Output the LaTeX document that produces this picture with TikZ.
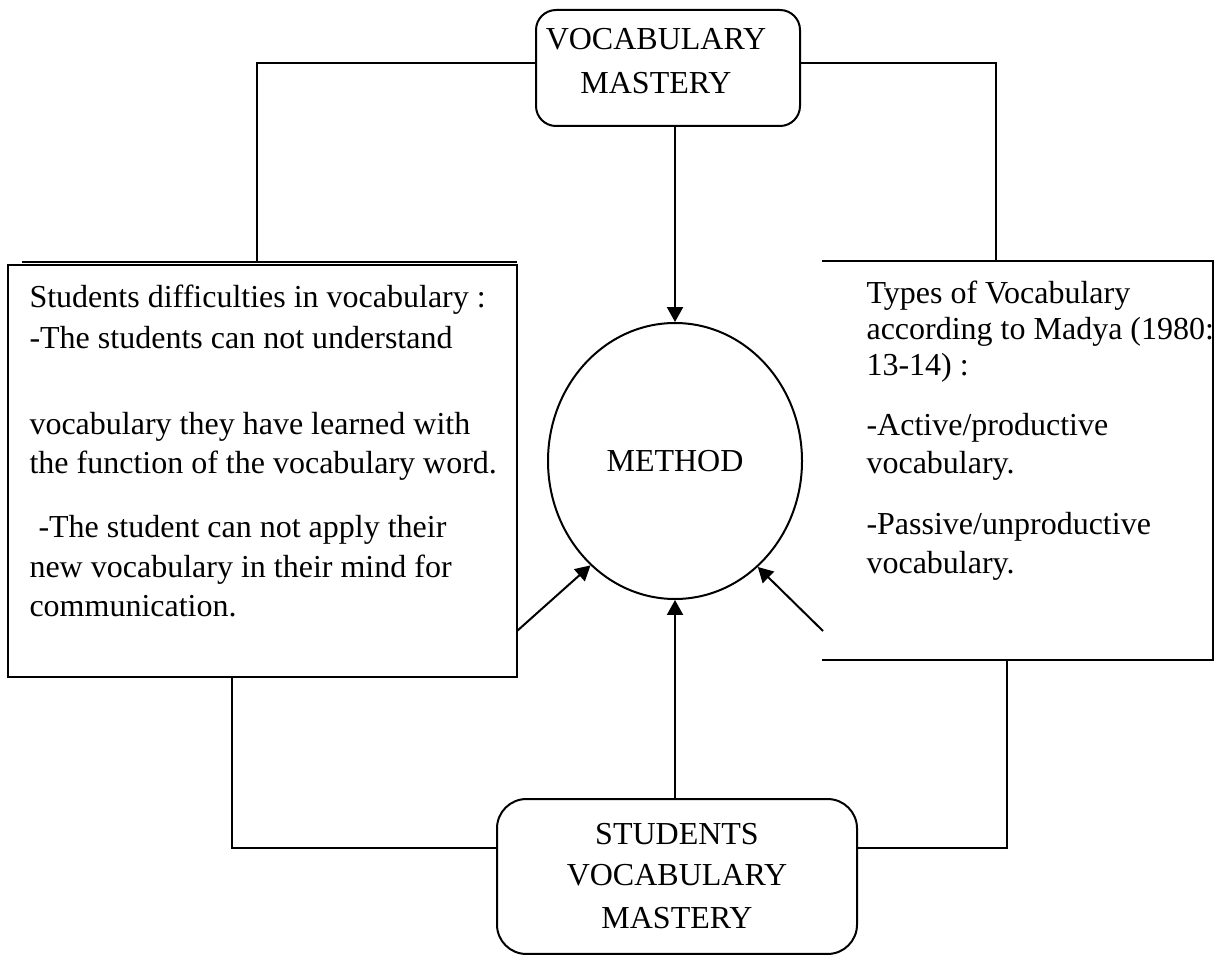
\documentclass[tikz,border=0pt]{standalone}
\usepackage{fontspec}
\setmainfont{Liberation Serif}
\usetikzlibrary{shapes.geometric,arrows.meta}
\begin{document}
\begin{tikzpicture}[x=0.375pt,y=-0.375pt,
  line/.style={line width=0.75pt},
  arr/.style={line width=0.75pt,-{Triangle[length=5.6pt,width=6pt]}},
  txt/.style={font=\fontsize{12}{14}\selectfont, inner sep=0pt, anchor=base west},
  ctxt/.style={font=\fontsize{12}{14}\selectfont, inner sep=0pt, anchor=base},
  roundbox/.style={draw, line width=0.75pt, inner sep=0pt},
  plainbox/.style={inner sep=0pt},
]
\useasboundingbox (0,0) rectangle (1217,956);

% boxes
\node[roundbox, rounded corners=7.5pt, minimum width=99pt, minimum height=43.5pt] (top) at (668,68) {};
\node[roundbox, rounded corners=11pt, minimum width=135pt, minimum height=58.1pt] (bot) at (677,876.5) {};
\node[roundbox, minimum width=190.9pt, minimum height=154.5pt] (lbox) at (262.5,471) {};
\node[plainbox, minimum width=145.9pt, minimum height=148.9pt] (rbox) at (1017.5,460.5) {};
\draw[line] (rbox.north west) -- (rbox.north east) -- (rbox.south east) -- (rbox.south west);
\draw[line] (22,262) -- (517,262);

\node[draw, ellipse, line width=0.75pt, inner sep=0pt, minimum width=95.25pt, minimum height=103.5pt,
      font=\fontsize{12}{14}\selectfont] (method) at (675,461) {METHOD};

% box texts
\node[ctxt] (t1) at (656,50) {VOCABULARY};
\node[ctxt] (t2) at (656,94) {MASTERY};
\node[ctxt] (b1) at (677,844) {STUDENTS};
\node[ctxt] (b2) at (677,885) {VOCABULARY};
\node[ctxt] (b3) at (677,928) {MASTERY};

\node[txt] (l1) at (29,307) {Students difficulties in vocabulary :};
\node[txt] (l2) at (29,348) {-The students can not understand};
\node[txt] (l3) at (29,434) {vocabulary they have learned with};
\node[txt] (l4) at (29,473) {the function of the vocabulary word.};
\node[txt] (l5) at (38,537) {-The student can not apply their};
\node[txt] (l6) at (29,577) {new vocabulary in their mind for};
\node[txt] (l7) at (29,616) {communication.};

\begin{scope}
\clip (823,262) rectangle (1212,659);
\node[txt] (r1) at (866,303) {Types of Vocabulary};
\node[txt] (r2) at (866,339) {according to Madya (1980:};
\node[txt] (r3) at (866,375) {13-14) :};
\node[txt] (r4) at (866,435) {-Active/productive};
\node[txt] (r5) at (866,473) {vocabulary.};
\node[txt] (r6) at (866,534) {-Passive/unproductive};
\node[txt] (r7) at (866,573) {vocabulary.};
\end{scope}

% connectors
\coordinate (lt) at (257,262);
\coordinate (rt) at (996,262);
\coordinate (lb) at (232,677);
\coordinate (rb) at (1007,659);
\coordinate (la) at (517,631);
\coordinate (ra) at (823,631);

\draw[line] ([yshift=1.9pt]top.west) -| (lt);
\draw[line] ([yshift=1.9pt]top.east) -| (rt);
\draw[line] (lb) |- ([yshift=10.7pt]bot.west);
\draw[line] (rb) |- ([yshift=10.7pt]bot.east);

\draw[arr] (top.south -| method.north) -- (method.north);
\draw[arr] (bot.north -| method.south) -- (method.south);
\draw[arr] (la) -- (method.-129);
\draw[arr] (ra) -- (method.-52);
\end{tikzpicture}
\end{document}
